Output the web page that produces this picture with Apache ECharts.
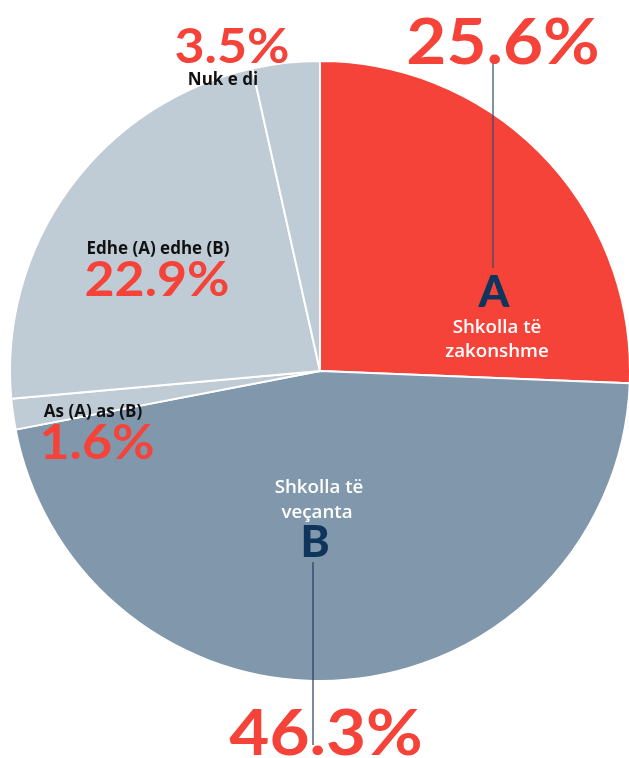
<!DOCTYPE html>
<html>
<head>
<meta charset="utf-8">
<script src="https://cdn.jsdelivr.net/npm/echarts@6/dist/echarts.min.js"></script>
<style>
html,body{margin:0;padding:0;background:#fff;}
#chart{width:629px;height:758px;}
</style>
</head>
<body>
<div id="chart"></div>
<script>
// Data
var categories = ['Shkolla të zakonshme', 'Shkolla të veçanta', 'As (A) as (B)', 'Edhe (A) edhe (B)', 'Nuk e di'];
var values = [25.6, 46.3, 1.6, 22.9, 3.5];
var letters = ['A', 'B', '', '', ''];
var subLines = [['Shkolla të', 'zakonshme'], ['Shkolla të', 'veçanta'], [], [], []];
var colors = ['#f5433a', '#8197ac', '#bfcbd5', '#bfcbd5', '#bfcbd5'];

var RED = '#f5433a', NAVY = '#0f355c';
var NUMFONT = 'Lato, "Noto Sans", sans-serif';
var LBLFONT = '"Open Sans", "Noto Sans", sans-serif';

var chart = echarts.init(document.getElementById('chart'), null, {renderer: 'canvas'});

function txt(text, x, y, size, fill, weight, family, sx) {
  return {
    type: 'text', x: x, y: y, z: 100, scaleX: sx || 1,
    style: {
      text: text, fill: fill,
      font: (weight || 'bold') + ' ' + size + 'px ' + (family || NUMFONT),
      textAlign: 'center', textVerticalAlign: 'middle'
    }
  };
}
function pct(v) { return v.toFixed(1) + '%'; }
function num(text, x, y, size) { return txt(text, x, y, size, RED, 'bold', NUMFONT, 1.08); }
function lbl(text, x, y, size, fill, weight, sx) { return txt(text, x, y, size, fill, weight, LBLFONT, sx || 1.04); }

var graphics = [
  // A
  {type: 'line', z: 90, shape: {x1: 493, y1: 62, x2: 493, y2: 268}, style: {stroke: '#2c4a6b', lineWidth: 1.2}},
  num(pct(values[0]), 503, 43, 64),
  txt(letters[0], 494, 293, 44, NAVY, '900'),
  lbl(subLines[0][0], 497, 328, 18, '#ffffff', '600'),
  lbl(subLines[0][1], 497, 352, 18, '#ffffff', '600'),
  // B
  {type: 'line', z: 90, shape: {x1: 313, y1: 562, x2: 313, y2: 745}, style: {stroke: '#1f3d60', lineWidth: 1.2}},
  lbl(subLines[1][0], 319, 488, 18, '#ffffff', '600'),
  lbl(subLines[1][1], 317, 513, 18, '#ffffff', '600'),
  txt(letters[1], 315, 543, 44, NAVY, '900'),
  num(pct(values[1]), 326, 734, 64),
  // As (A) as (B)
  lbl(categories[2], 93, 412, 17, '#111111', 'bold', 1.0),
  num(pct(values[2]), 97, 444, 48),
  // Edhe
  lbl(categories[3], 158, 249, 17, '#111111', 'bold', 1.0),
  num(pct(values[3]), 157, 281, 48),
  // Nuk e di
  num(pct(values[4]), 232, 48, 48),
  lbl(categories[4], 223, 80, 17, '#111111', 'bold', 1.0)
];

chart.setOption({
  animation: false,
  backgroundColor: '#ffffff',
  series: [{
    type: 'pie',
    center: [320, 371],
    radius: [0, 310],
    startAngle: 90,
    clockwise: true,
    avoidLabelOverlap: false,
    label: {show: false},
    labelLine: {show: false},
    emphasis: {disabled: true},
    itemStyle: {borderColor: '#ffffff', borderWidth: 2},
    data: categories.map(function (c, i) {
      return {name: c, value: values[i], itemStyle: {color: colors[i]}};
    })
  }],
  graphic: graphics
});
</script>
</body>
</html>
